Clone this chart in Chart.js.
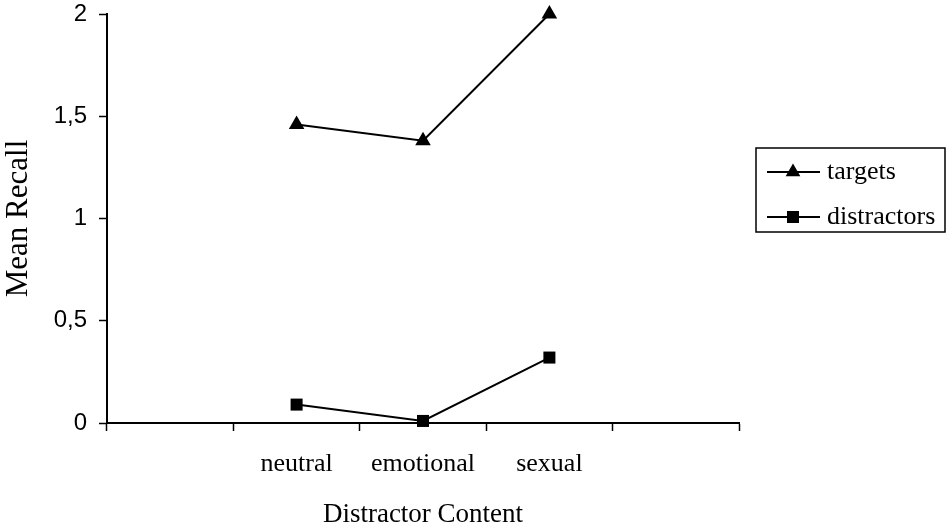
<!DOCTYPE html>
<html>
<head>
<meta charset="utf-8">
<script src="https://cdn.jsdelivr.net/npm/chart.js@4/dist/chart.umd.min.js"></script>
<style>
  html, body { margin: 0; padding: 0; background: #fff; }
  #wrap { width: 946px; height: 531px; }
</style>
</head>
<body>
<div id="wrap"><canvas id="c" width="946" height="531"></canvas></div>
<script>
const categories = ['', 'neutral', 'emotional', 'sexual', ''];
const targets = [null, 1.46, 1.38, 2.0, null];
const distractors = [null, 0.09, 0.01, 0.32, null];
const yTicks = [0, 0.5, 1, 1.5, 2];
const yTickLabels = ['0', '0,5', '1', '1,5', '2'];
const seriesNames = ['targets', 'distractors'];

const serif = '"Liberation Serif", "Times New Roman", serif';
const sans = '"Liberation Sans", Arial, sans-serif';

const legendPlugin = {
  id: 'boxLegend',
  afterDraw(chart) {
    const ctx = chart.ctx;
    ctx.save();
    const bx = 756, by = 148, bw = 189, bh = 84;
    ctx.strokeStyle = '#000';
    ctx.lineWidth = 1.5;
    ctx.strokeRect(bx, by, bw, bh);
    const rows = [
      { y: 172, name: seriesNames[0], style: 'triangle' },
      { y: 217, name: seriesNames[1], style: 'rect' }
    ];
    rows.forEach(r => {
      ctx.beginPath();
      ctx.lineWidth = 2;
      ctx.moveTo(767, r.y);
      ctx.lineTo(820, r.y);
      ctx.stroke();
      ctx.fillStyle = '#000';
      const cx = 793;
      if (r.style === 'triangle') {
        const rad = 8.5;
        ctx.beginPath();
        ctx.moveTo(cx, r.y - rad);
        ctx.lineTo(cx + rad * Math.sin(2 * Math.PI / 3), r.y - rad * Math.cos(2 * Math.PI / 3));
        ctx.lineTo(cx + rad * Math.sin(4 * Math.PI / 3), r.y - rad * Math.cos(4 * Math.PI / 3));
        ctx.closePath();
        ctx.fill();
      } else {
        ctx.fillRect(cx - 6, r.y - 6, 12, 12);
      }
      ctx.font = '26px ' + serif;
      ctx.textBaseline = 'middle';
      ctx.textAlign = 'left';
      ctx.fillText(r.name, 827, r.y);
    });
    ctx.restore();
  }
};

new Chart(document.getElementById('c'), {
  type: 'line',
  data: {
    labels: categories,
    datasets: [
      {
        label: seriesNames[0],
        data: targets,
        borderColor: '#000',
        backgroundColor: '#000',
        borderWidth: 2,
        pointStyle: 'triangle',
        pointRadius: 9,
        pointBorderWidth: 0,
        fill: false,
        tension: 0,
        clip: false
      },
      {
        label: seriesNames[1],
        data: distractors,
        borderColor: '#000',
        backgroundColor: '#000',
        borderWidth: 2,
        pointStyle: 'rect',
        pointRadius: 8.5,
        pointBorderWidth: 0,
        fill: false,
        tension: 0,
        clip: false
      }
    ]
  },
  options: {
    responsive: false,
    animation: false,
    devicePixelRatio: 1,
    layout: { padding: { left: 0, right: 207, top: 14, bottom: 0 } },
    plugins: {
      legend: { display: false },
      tooltip: { enabled: false }
    },
    scales: {
      x: {
        type: 'category',
        offset: true,
        grid: {
          display: true,
          offset: true,
          drawOnChartArea: false,
          drawTicks: true,
          tickLength: 8,
          tickWidth: 1.5,
          color: '#000'
        },
        border: { display: true, color: '#000', width: 2 },
        ticks: {
          color: '#000',
          font: { family: serif, size: 26 },
          padding: 18,
          maxRotation: 0,
          autoSkip: false
        },
        title: {
          display: true,
          text: 'Distractor Content',
          color: '#000',
          font: { family: serif, size: 27 },
          padding: { top: 0, bottom: 0 }
        },
        afterFit(scale) {
          scale.height = 108;
          scale.paddingLeft = 0;
          scale.paddingRight = 0;
        }
      },
      y: {
        min: 0,
        max: 2,
        afterBuildTicks(scale) { scale.ticks = yTicks.map(v => ({ value: v })); },
        grid: {
          display: true,
          drawOnChartArea: false,
          drawTicks: true,
          tickLength: 8,
          tickWidth: 1.5,
          color: '#000'
        },
        border: { display: true, color: '#000', width: 2 },
        ticks: {
          color: '#000',
          font: { family: sans, size: 24 },
          padding: 12,
          callback(value) {
            const i = yTicks.indexOf(value);
            return i >= 0 ? yTickLabels[i] : '';
          }
        },
        title: {
          display: true,
          text: 'Mean Recall',
          color: '#000',
          font: { family: serif, size: 31 },
          padding: { top: 0, bottom: 0 }
        },
        afterFit(scale) {
          scale.width = 107;
          scale.paddingTop = 0;
          scale.paddingBottom = 0;
        }
      }
    }
  },
  plugins: [legendPlugin]
});
</script>
</body>
</html>
